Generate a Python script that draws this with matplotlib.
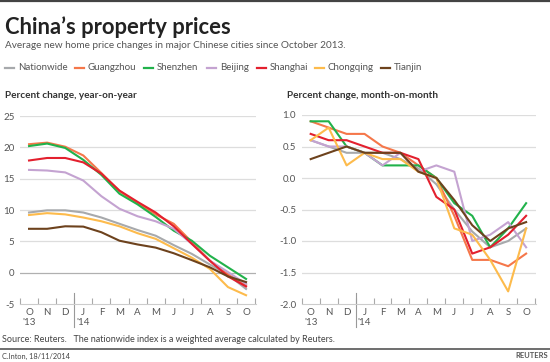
import matplotlib
matplotlib.use("Agg")
import matplotlib.pyplot as plt
from matplotlib.lines import Line2D
import numpy as np

plt.rcParams['font.family'] = ['Lato', 'DejaVu Sans']

W, H = 550, 362
months = ["O", "N", "D", "J", "F", "M", "A", "M", "J", "J", "A", "S", "O"]
years = ["'13", "'14"]
cities = ["Nationwide", "Guangzhou", "Shenzhen", "Beijing", "Shanghai", "Chongqing", "Tianjin"]
colors = ["#a7a9ac", "#f5774a", "#21b24b", "#c4a3d1", "#e3202e", "#fdbb4c", "#6d421d"]

# year-on-year, % (Oct 2013 .. Oct 2014)
yoy_nationwide = [9.6, 9.95, 9.95, 9.6, 8.8, 7.8, 6.8, 5.9, 4.4, 3.0, 1.3, -0.3, -2.6]
yoy_guangzhou = [20.5, 20.75, 20.1, 18.7, 15.9, 13.0, 11.1, 9.3, 7.8, 4.9, 1.9, -0.3, -2.0]
yoy_shenzhen = [20.2, 20.6, 19.9, 18.0, 15.6, 12.6, 10.9, 8.9, 6.7, 5.1, 2.7, 0.85, -1.0]
yoy_beijing = [16.4, 16.3, 16.0, 14.7, 12.2, 10.2, 9.0, 8.2, 7.0, 4.6, 1.9, 0.1, -1.8]
yoy_shanghai = [17.9, 18.3, 18.3, 17.6, 15.8, 13.1, 11.3, 9.6, 7.4, 4.6, 1.9, -0.6, -2.2]
yoy_chongqing = [9.2, 9.5, 9.3, 8.8, 8.2, 7.4, 6.3, 5.4, 3.9, 2.4, 0.6, -2.3, -3.6]
yoy_tianjin = [7.0, 7.0, 7.4, 7.35, 6.45, 5.1, 4.5, 4.0, 3.1, 2.0, 0.85, -0.6, -1.5]

# month-on-month, %
mom_nationwide = [0.6, 0.5, 0.4, 0.4, 0.4, 0.3, 0.15, -0.1, -0.5, -0.85, -1.1, -1.0, -0.8]
mom_guangzhou = [0.9, 0.8, 0.7, 0.7, 0.5, 0.4, 0.2, 0.0, -0.6, -1.3, -1.3, -1.4, -1.2]
mom_shenzhen = [0.9, 0.9, 0.5, 0.4, 0.2, 0.2, 0.2, 0.0, -0.4, -0.6, -1.1, -0.8, -0.4]
mom_beijing = [0.6, 0.5, 0.5, 0.4, 0.2, 0.4, 0.1, 0.2, 0.1, -1.0, -0.9, -0.7, -1.1]
mom_shanghai = [0.7, 0.6, 0.6, 0.5, 0.4, 0.4, 0.3, -0.3, -0.5, -1.2, -1.1, -0.9, -0.6]
mom_chongqing = [0.6, 0.8, 0.2, 0.4, 0.3, 0.3, 0.1, 0.0, -0.8, -0.9, -1.3, -1.8, -0.8]
mom_tianjin = [0.3, 0.4, 0.5, 0.4, 0.4, 0.4, 0.1, 0.0, -0.35, -0.75, -1.0, -0.8, -0.7]

yoy = [yoy_nationwide, yoy_guangzhou, yoy_shenzhen, yoy_beijing, yoy_shanghai, yoy_chongqing, yoy_tianjin]
mom = [mom_nationwide, mom_guangzhou, mom_shenzhen, mom_beijing, mom_shanghai, mom_chongqing, mom_tianjin]

fig = plt.figure(figsize=(W / 100, H / 100), dpi=100)


def fx(x):
    return x / W


def fy(y):
    return 1 - y / H


# top and bottom rules
fig.add_artist(Line2D([0, 1], [fy(1), fy(1)], color="#444444", lw=1.6))
fig.add_artist(Line2D([0, 1], [fy(349), fy(349)], color="#555555", lw=1.2))

fig.text(fx(5), fy(27), "China\u2019s property prices", fontsize=15.8, fontweight="bold",
         color="#222222", va="center", ha="left")
fig.text(fx(5), fy(46), "Average new home price changes in major Chinese cities since October 2013.",
         fontsize=7.2, color="#555555", va="center", ha="left")

# legend
leg_line_x = [5, 75, 144, 207, 257, 315, 381]
for lx, name, c in zip(leg_line_x, cities, colors):
    fig.add_artist(Line2D([fx(lx), fx(lx + 9)], [fy(68), fy(68)], color=c, lw=1.6))
    fig.text(fx(lx + 13), fy(68), name, fontsize=7, color="#555555", va="center", ha="left")

fig.text(fx(5), fy(95), "Percent change, year-on-year", fontsize=7.2, fontweight="bold",
         color="#333333", va="center", ha="left")
fig.text(fx(287), fy(95), "Percent change, month-on-month", fontsize=7.2, fontweight="bold",
         color="#333333", va="center", ha="left")

x = np.arange(len(months))


def make_axes(left, right, top, bottom, ylim, yticks, fmt, data, zero_dark):
    ax = fig.add_axes([fx(left), fy(bottom), (right - left) / W, (bottom - top) / H])
    for s in ["top", "right", "left"]:
        ax.spines[s].set_visible(False)
    ax.spines["bottom"].set_color("#cccccc")
    ax.spines["bottom"].set_linewidth(0.8)
    ax.set_xlim(-0.5, 12.55)
    ax.set_ylim(*ylim)
    ax.set_yticks(yticks)
    ax.set_yticklabels([fmt(v) for v in yticks], fontsize=7, color="#555555")
    ax.tick_params(axis="y", length=0, pad=4)
    for v in yticks[1:]:
        col = "#b0b0b0" if (zero_dark and v == 0) else "#dddddd"
        ax.axhline(v, color=col, lw=0.9, zorder=0)
    ax.set_xticks(x)
    ax.set_xticklabels(months, fontsize=7, color="#555555")
    ax.tick_params(axis="x", length=0, pad=3)
    ax.set_xticks(np.arange(-0.5, 12.6, 1.0), minor=True)
    ax.tick_params(axis="x", which="minor", direction="in", length=4, color="#aaaaaa", width=0.8)
    for vals, c in zip(data, colors):
        ax.plot(x, vals, color=c, lw=1.5, solid_joinstyle="round", clip_on=False)
    # year separator
    ax.plot([2.5, 2.5], [0.06, -0.12], transform=ax.get_xaxis_transform(), color="#999999",
            lw=0.8, clip_on=False)
    ax.text(0, -0.1, years[0], transform=ax.get_xaxis_transform(), fontsize=7, color="#555555",
            ha="center", va="center")
    ax.text(3, -0.1, years[1], transform=ax.get_xaxis_transform(), fontsize=7, color="#555555",
            ha="center", va="center")
    return ax


make_axes(20, 256, 116, 304, (-5, 25), [-5, 0, 5, 10, 15, 20, 25], lambda v: f"{v:d}", yoy, True)
make_axes(301.7, 536, 115, 304, (-2, 1), [-2.0, -1.5, -1.0, -0.5, 0.0, 0.5, 1.0],
          lambda v: f"{v:.1f}", mom, False)

fig.text(fx(2), fy(340), "Source: Reuters.   The nationwide index is a weighted average calculated by Reuters.",
         fontsize=6.5, color="#444444", va="center", ha="left")
fig.text(fx(2), fy(356), "C.Inton, 18/11/2014", fontsize=5.3, color="#444444", va="center", ha="left")
fig.text(fx(548), fy(356), "REUTERS", fontsize=5.5, fontweight="bold", color="#555555",
         va="center", ha="right")

fig.savefig("out.png", dpi=100)
